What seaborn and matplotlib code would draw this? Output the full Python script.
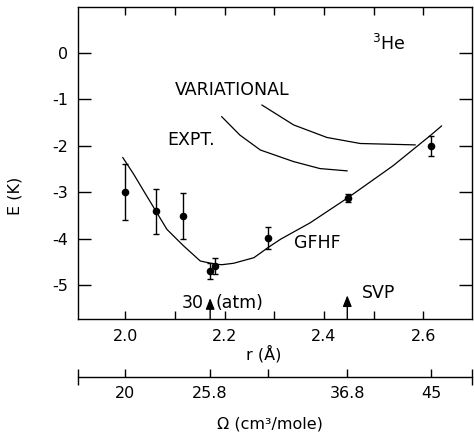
import matplotlib
matplotlib.use("Agg")
import matplotlib.pyplot as plt
import seaborn as sns
import numpy as np
import pandas as pd

# ---- data ----
pt_r = [2.000, 2.062, 2.116, 2.171, 2.181, 2.288, 2.448, 2.616]
pt_E = [-3.00, -3.41, -3.51, -4.69, -4.59, -3.98, -3.12, -2.00]
pt_err = [0.60, 0.48, 0.50, 0.17, 0.17, 0.24, 0.09, 0.22]

gfhf_r = [1.995, 2.017, 2.036, 2.062, 2.084, 2.117, 2.151, 2.181, 2.195, 2.218,
          2.259, 2.289, 2.313, 2.372, 2.448, 2.539, 2.614, 2.637]
gfhf_E = [-2.25, -2.61, -2.95, -3.41, -3.80, -4.15, -4.48, -4.55, -4.56, -4.53,
          -4.41, -4.18, -4.01, -3.66, -3.12, -2.43, -1.78, -1.57]

expt_r = [2.194, 2.231, 2.272, 2.339, 2.392, 2.447]
expt_E = [-1.37, -1.77, -2.09, -2.34, -2.49, -2.54]

var_r = [2.275, 2.339, 2.406, 2.473, 2.584]
var_E = [-1.12, -1.55, -1.82, -1.95, -1.98]

r_major = [2.0, 2.2, 2.4, 2.6]
r_minor = [2.1, 2.3, 2.5]
r_top = [2.0, 2.1, 2.2, 2.3, 2.4, 2.5, 2.6]
E_ticks = [0, -1, -2, -3, -4, -5]

omega_r = [2.000, 2.171, 2.288, 2.447, 2.616]
omega_labels = ["20", "25.8", "", "36.8", "45"]

press_r = [2.171, 2.447]
press_tip = [-5.28, -5.22]

# ---- styling ----
sns.set_style("ticks")
plt.rcParams["font.family"] = ["DejaVu Sans"]
plt.rcParams["axes.unicode_minus"] = False
for key in ["text.color", "axes.labelcolor", "xtick.color", "ytick.color",
            "xtick.labelcolor", "ytick.labelcolor", "axes.edgecolor"]:
    plt.rcParams[key] = "black"
FS = 11.5
TS = 12.5

fig = plt.figure(figsize=(4.74, 4.36), dpi=100)
W, H = 474, 436
def frac(x0, y0, x1, y1):
    return [x0 / W, 1 - y1 / H, (x1 - x0) / W, (y1 - y0) / H]

ax = fig.add_axes(frac(78, 7, 472, 319))
XL = (1.905, 2.698)
ax.set_xlim(*XL)
ax.set_ylim(-5.73, 0.99)

k = "black"
ax.errorbar(pt_r, pt_E, yerr=pt_err, fmt="none", ecolor=k, elinewidth=1.0,
            capsize=2.4, capthick=1.0)
sns.scatterplot(x=pt_r, y=pt_E, ax=ax, color=k, s=30, edgecolor=k, linewidth=0, zorder=3)
sns.lineplot(x=gfhf_r, y=gfhf_E, ax=ax, color=k, lw=0.9, sort=False, estimator=None)
sns.lineplot(x=expt_r, y=expt_E, ax=ax, color=k, lw=0.9, sort=False, estimator=None)
sns.lineplot(x=var_r, y=var_E, ax=ax, color=k, lw=0.9, sort=False, estimator=None)

# ticks
ax.set_xticks(r_major)
ax.set_xticklabels([f"{v:.1f}" for v in r_major], fontsize=FS)
ax.set_xticks(r_minor, minor=True)
ax.set_yticks(E_ticks)
ax.set_yticklabels([str(v) for v in E_ticks], fontsize=FS)
ax.tick_params(axis="x", which="both", direction="in", length=6, width=1.0,
               pad=7, top=False, bottom=True, color=k)
ax.tick_params(axis="y", which="major", direction="in", length=9.5, width=1.0,
               pad=7, left=True, right=True, color=k)
for s in ax.spines.values():
    s.set_linewidth(1.0)
    s.set_color(k)
# top ticks every 0.1
axt = ax.secondary_xaxis("top")
axt.set_xticks(r_top)
axt.set_xticklabels([])
axt.tick_params(direction="in", length=6, width=1.0, color=k)
axt.spines["top"].set_visible(False)

ax.set_xlabel("r (Å)", fontsize=FS)
ax.xaxis.set_label_coords(0.472, -0.083)
ax.set_ylabel("E (K)", fontsize=FS)
ax.yaxis.set_label_coords(-0.142, 0.394)

# curve labels
ax.text(2.1006, -0.80, "VARIATIONAL", fontsize=TS, va="center", ha="left")
ax.text(2.0845, -1.875, "EXPT.", fontsize=TS, va="center", ha="left")
ax.text(2.340, -4.095, "GFHF", fontsize=TS, va="center", ha="left")
ax.text(2.497, 0.065, r"$\mathregular{^3He}$", fontsize=TS, va="baseline", ha="left")

# pressure arrows
for xr, tip in zip(press_r, press_tip):
    ax.annotate("", xy=(xr, tip), xytext=(xr, -5.73),
                arrowprops=dict(arrowstyle="-|>,head_length=0.55,head_width=0.22",
                                color=k, lw=1.0, shrinkA=0, shrinkB=0,
                                mutation_scale=12))
ax.text(2.157, -5.39, "30", fontsize=TS, va="center", ha="right")
ax.text(2.181, -5.39, "(atm)", fontsize=TS, va="center", ha="left")
ax.text(2.477, -5.17, "SVP", fontsize=TS, va="center", ha="left")

# ---- volume axis ----
ax2 = fig.add_axes(frac(78, 347, 472, 377))
ax2.set_xlim(*XL)
ax2.set_ylim(0, 1)
ax2.patch.set_alpha(0)
for side in ["top", "left", "right"]:
    ax2.spines[side].set_visible(False)
ax2.spines["bottom"].set_linewidth(1.0)
ax2.spines["bottom"].set_color(k)
ax2.set_yticks([])
ax2.set_xticks(omega_r)
ax2.set_xticklabels(omega_labels, fontsize=FS)
ax2.tick_params(axis="x", which="major", direction="in", length=5.5, width=1.0,
                pad=6.5, color=k)
ax2.set_xticks(list(XL), minor=True)
ax2.tick_params(axis="x", which="minor", direction="inout", length=11, width=1.0, color=k)
ax2.set_xlabel("Ω (cm³/mole)", fontsize=FS)
ax2.xaxis.set_label_coords(0.487, -1.3)

fig.savefig("out.png", dpi=100)
